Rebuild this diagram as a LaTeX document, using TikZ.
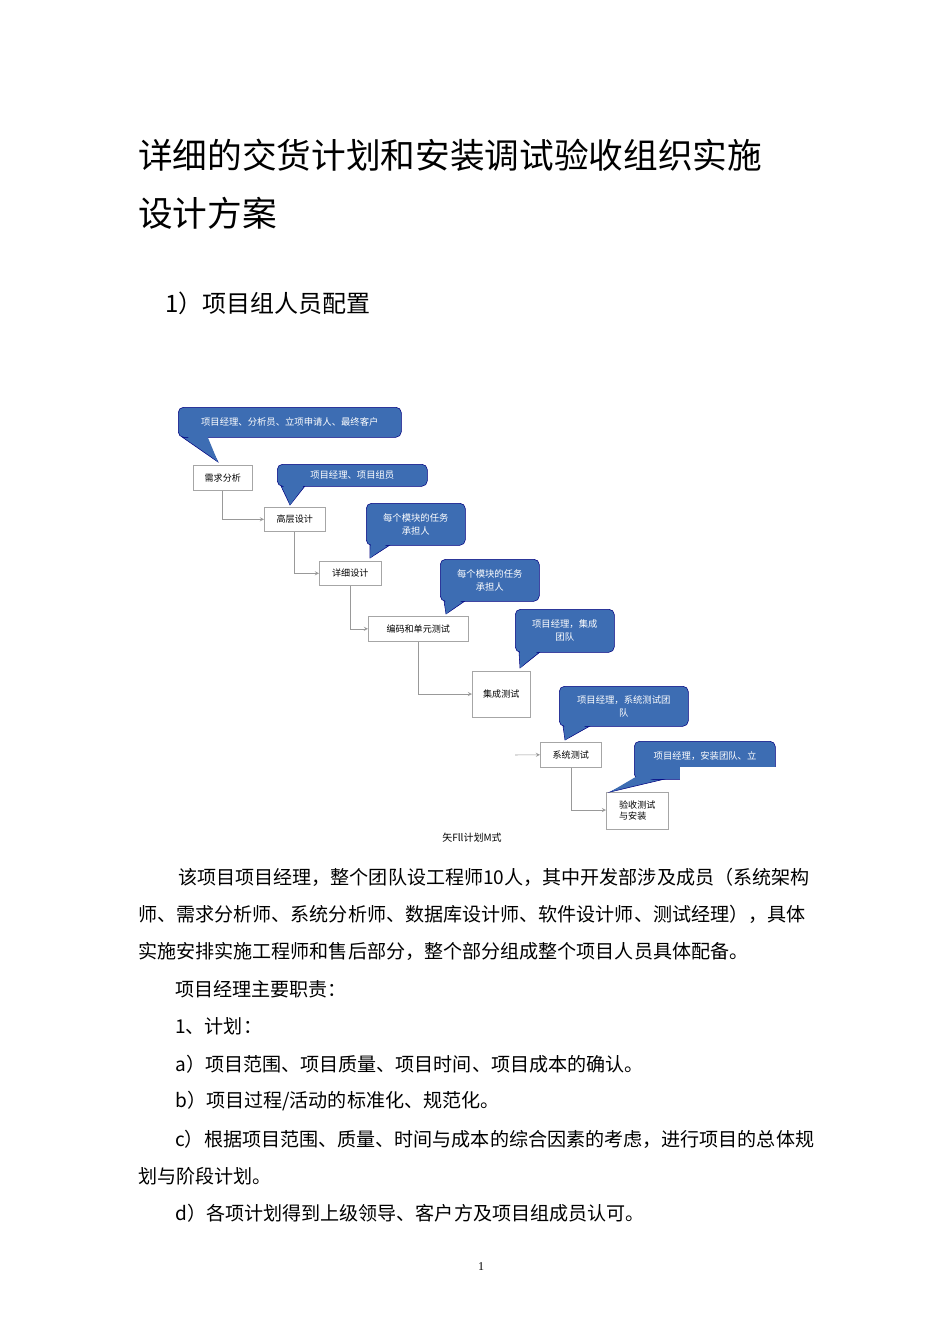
\documentclass[tikz,border=0pt]{standalone}
\usepackage{fontspec}
\setmainfont{Liberation Serif}
\newfontfamily\cjk{Noto Sans CJK SC}
\begin{document}
\begin{tikzpicture}[x=0.75pt,y=-0.75pt,
  txt/.style={anchor=west,inner sep=0pt,font=\cjk\fontsize{14.3}{17}\selectfont},
  stage/.style={draw=black!35,fill=white,anchor=north west,inner sep=2pt,font=\cjk\fontsize{6.8}{8.5}\selectfont,align=left},
  bubble/.style={draw=blue!50!black,fill=callblue,rounded corners=4pt,text=white,align=center,font=\cjk\fontsize{6}{8}\selectfont,inner sep=2pt},
  btxt/.style={text=white,align=center,font=\cjk\fontsize{7}{10}\selectfont},
  conn/.style={draw=black!40,->,>=stealth}]
\definecolor{callblue}{HTML}{3D6DB3}
\useasboundingbox (0,0) rectangle (950,1344);
\fill[white] (0,0) rectangle (950,1344);
% title
\node[anchor=west,inner sep=0pt,font=\cjk\fontsize{26}{30}\selectfont] (t1) at (138,155) {详细的交货计划和安装调试验收组织实施};
\node[anchor=west,inner sep=0pt,font=\cjk\fontsize{26}{30}\selectfont] (t2) at (138,213) {设计方案};
\node[anchor=west,inner sep=0pt,font=\cjk\fontsize{18}{22}\selectfont] (h1) at (165,303) {1）项目组人员配置};
% stages
\node[stage,minimum width=59*0.75pt,minimum height=25*0.75pt] (s1) at (193,465) {需求分析};
\node[stage,minimum width=61*0.75pt,minimum height=24*0.75pt] (s2) at (264,507) {高层设计};
\node[stage,minimum width=62*0.75pt,minimum height=24*0.75pt] (s3) at (319,561) {详细设计};
\node[stage,minimum width=100*0.75pt,minimum height=25*0.75pt] (s4) at (368,616) {编码和单元测试};
\node[stage,minimum width=58*0.75pt,minimum height=46*0.75pt,anchor=north west] (s5) at (472,671) {集成测试};
\node[stage,minimum width=61*0.75pt,minimum height=25*0.75pt] (s6) at (540,742) {系统测试};
\node[stage,minimum width=62*0.75pt,minimum height=37*0.75pt] (s7) at (606,792) {验收测试\\与安装};
% connectors
\coordinate (c1) at (222,519);
\coordinate (c2) at (294,573);
\coordinate (c3) at (350,629);
\coordinate (c4) at (418,694);
\coordinate (c5) at (515,755);
\coordinate (c6) at (571,810);
\draw[conn] (s1.south -| c1) |- (s2.west);
\draw[conn] (s2.south -| c2) |- (s3.west);
\draw[conn] (s3.south -| c3) |- (s4.west);
\draw[conn] (s4.south -| c4) |- (s5.west |- c4);
\draw[conn] (c5) -- (s6.west);
\draw[conn] (s6.south -| c6) |- (s7.west |- c6);
% callouts
\newcommand{\callout}[8]{%
  \fill[callblue,draw=blue!50!black] ({#3+4},#5) -- (#6,#5) -- (#7,#8) -- cycle;
  \node[bubble,minimum width=(#4-#3)*0.75pt,minimum height=#2*0.75pt,anchor=north west] (#1) at (#3,{#5-#2}) {};
  \fill[callblue] ({#3+5},{#5-4}) -- ({#6+1},{#5-4}) -- (#7,#8) -- cycle;
}
\callout{b1}{30}{178}{401}{437}{205}{218}{462}
\node[btxt] at (b1.center) {项目经理、分析员、立项申请人、最终客户};
\callout{b2}{22}{277}{427}{486}{305}{290}{505}
\node[btxt] at (b2.center) {项目经理、项目组员};
\callout{b3}{42}{366}{465}{545}{390}{370}{558}
\node[btxt] at (b3.center) {每个模块的任务\\承担人};
\callout{b4}{42}{440}{539}{601}{465}{446}{614}
\node[btxt] at (b4.center) {每个模块的任务\\承担人};
\callout{b5}{43}{515}{614}{652}{540}{520}{668}
\node[btxt] at (b5.center) {项目经理，集成\\团队};
\callout{b6}{40}{559}{688}{726}{590}{565}{740}
\node[btxt] at (b6.center) {项目经理，系统测试团\\队};
\callout{b7}{38}{634}{775}{779}{665}{610}{792}
\node[btxt] at (705,756) {项目经理，安装团队、立};
\fill[white] (680,767) rectangle (780,781);
% caption
\node[font=\cjk\fontsize{7.5}{9}\selectfont] (cap) at (472,838) {矢Fll计划M式};
% body
\node[txt] (l1) at (178,877) {该项目项目经理，整个团队设工程师10人，其中开发部涉及成员（系统架构};
\node[txt] (l2) at (138,914) {师、需求分析师、系统分析师、数据库设计师、软件设计师、测试经理），具体};
\node[txt] (l3) at (138,951) {实施安排实施工程师和售后部分，整个部分组成整个项目人员具体配备。};
\node[txt] (l4) at (175,989) {项目经理主要职责：};
\node[txt] (l5) at (175,1026) {1、计划：};
\node[txt] (l6) at (175,1064) {a）项目范围、项目质量、项目时间、项目成本的确认。};
\node[txt] (l7) at (175,1101) {b）项目过程/活动的标准化、规范化。};
\node[txt] (l8) at (175,1139) {c）根据项目范围、质量、时间与成本的综合因素的考虑，进行项目的总体规};
\node[txt] (l9) at (138,1176) {划与阶段计划。};
\node[txt] (l10) at (175,1213) {d）各项计划得到上级领导、客户方及项目组成员认可。};
\node[font=\fontsize{9}{11}\selectfont] (pg) at (481,1267) {1};
\end{tikzpicture}
\end{document}
